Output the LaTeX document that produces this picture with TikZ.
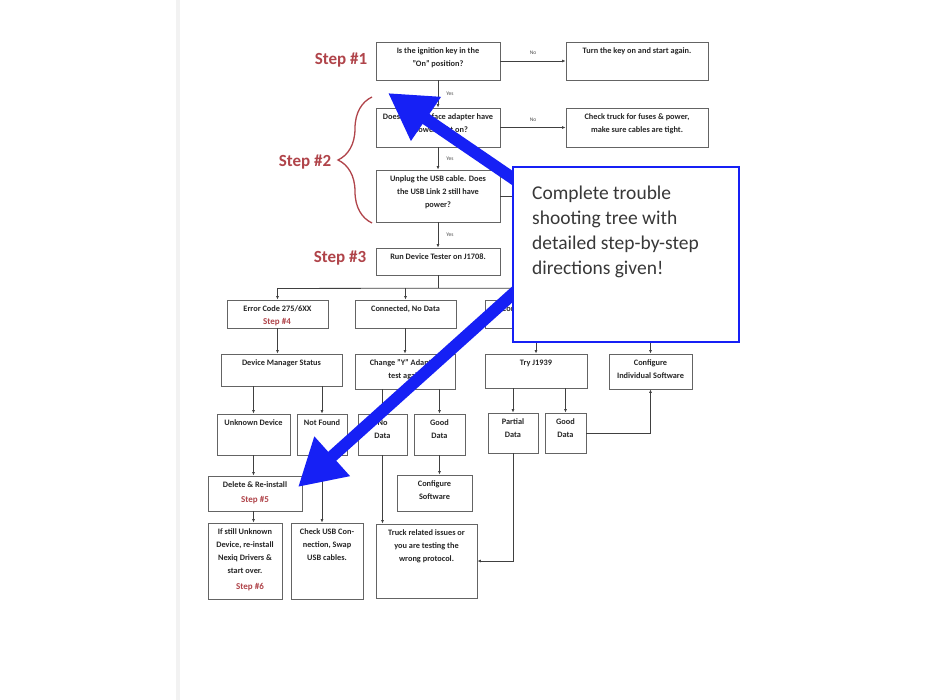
\documentclass[tikz,border=0pt]{standalone}
\usepackage{fontspec}
\setmainfont{Carlito}
\usetikzlibrary{arrows.meta,decorations.pathreplacing,calc}
\definecolor{bblue}{RGB}{22,32,245}
\definecolor{stepred}{RGB}{176,68,74}
\definecolor{boxgray}{RGB}{100,100,100}
\tikzset{
  bx/.style={draw=boxgray, line width=0.9pt, fill=white, inner sep=0pt, rectangle},
  tx/.style={font=\fontsize{8.3}{13}\selectfont\bfseries, text=black!85, align=center, anchor=north, inner sep=0pt},
  ln/.style={draw=black!75, line width=0.8pt},
  ar/.style={ln, -{Latex[length=3.5pt,width=3pt]}},
  lbl/.style={font=\fontsize{5.5}{6}\selectfont, text=black!70, inner sep=0pt},
  stp/.style={font=\fontsize{17}{18}\selectfont\bfseries, text=stepred, inner sep=0pt},
  stps/.style={font=\fontsize{9}{10}\selectfont\bfseries, text=stepred, inner sep=0pt},
  bigarrow/.style={draw=bblue, line width=12pt, -{Triangle[length=46pt,width=50pt]}},
}
\newcommand\boxt[5]{\node[bx, minimum width=#3pt, minimum height=#4pt] (#1) at (#2) {};
  \node[tx] at ($(#1.north)+(0,6)$) {#5};}
\begin{document}
\begin{tikzpicture}[x=1pt,y=-1pt]
\useasboundingbox (0,0) rectangle (933,700);
\fill[white] (0,0) rectangle (933,700);
\fill[black!5] (176,0) rectangle (180,700);

% boxes
\boxt{q1}{438,61}{124}{38}{Is the ignition key in the\\"On" position?}
\boxt{t1}{637,61}{142}{38}{Turn the key on and start again.}
\boxt{q2}{438,127.5}{124}{39}{Does the interface adapter have\\a power light on?}
\boxt{t2}{637,127.5}{142}{39}{Check truck for fuses \& power,\\make sure cables are tight.}
\boxt{q3}{438,196}{124}{52}{Unplug the USB cable. Does\\the USB Link 2 still have\\power?}
\boxt{q4}{438,261.5}{124}{27}{Run Device Tester on J1708.}
\boxt{c1}{277.5,314}{101}{28}{Error Code 275/6XX}
\boxt{c2}{405.5,314}{101}{28}{Connected, No Data}
\boxt{c3}{538,314}{106}{28}{Connected, Bad Data}
\boxt{d1}{281.5,370}{121}{32}{Device Manager Status}
\boxt{d2}{405,371.5}{100}{35}{Change "Y" Adapter,\\test again}
\boxt{d3}{536,371}{102}{34}{Try J1939}
\boxt{d4}{650.5,371.5}{83}{35}{Configure\\Individual Software}
\boxt{e1}{253.5,434.5}{73}{41}{Unknown Device}
\boxt{e2}{322,434.5}{50}{41}{Not Found}
\boxt{e3}{382.5,434.5}{49}{41}{No\\Data}
\boxt{e4}{439.5,434.5}{51}{41}{Good\\Data}
\boxt{e5}{513,433}{50}{40}{Partial\\Data}
\boxt{e6}{565.5,433}{41}{40}{Good\\Data}
\boxt{f1}{255,493.5}{94}{35}{Delete \& Re-install}
\boxt{f2}{434.5,493}{75}{36}{Configure\\Software}
\boxt{g1}{245,561}{74}{76}{If still Unknown\\Device, re-install\\Nexiq Drivers \&\\start over.}
\boxt{g2}{327,561}{72}{76}{Check USB Con-\\nection, Swap\\USB cables.}
\boxt{g3}{426.5,561}{101}{74}{Truck related issues or\\you are testing the\\wrong protocol.}

% step labels
\node[stp] (s1) at (341,60) {Step \#1};
\node[stp] (s2) at (305,162) {Step \#2};
\node[stp] (s3) at (340,258) {Step \#3};
\node[stps] (s4) at (277,322) {Step \#4};
\node[stps] (s5) at (255,500) {Step \#5};
\node[stps] (s6) at (250,587) {Step \#6};
\draw[stepred, line width=1.3pt, decorate, decoration={brace, amplitude=34pt}] (372,223) -- (372,97);

% connectors
\draw[ar] (q1.east) -- node[lbl, above=6pt] {No} (t1.west);
\draw[ar] (q2.east) -- node[lbl, above=6pt] {No} (t2.west);
\draw[ar] (q1.south) -- node[lbl, right=8pt] {Yes} (q2.north);
\draw[ar] (q2.south) -- node[lbl, right=8pt] {Yes} (q3.north);
\draw[ar] (q3.south) -- node[lbl, right=8pt] {Yes} (q4.north);
\coordinate (qr) at ($(q3.east)+(40,0)$);
\draw[ln] (q3.east) -- (qr);
\coordinate (bus) at ($(q4.south)+(0,13)$);
\coordinate (busend) at (653,288);
\draw[ln] (q4.south) -- (bus);
\draw[ln] (c1.north |- bus) -- (busend);
\draw[ar] (c1.north |- bus) -- (c1.north);
\draw[ar] (c2.north |- bus) -- (c2.north);
\draw[ar] (c3.north |- bus) -- (c3.north);
\draw[ln] (busend) -- ++(0,12);
\draw[ar] (c1.south) -- (c1.south |- d1.north);
\draw[ar] (c2.south -| d2.north) -- (d2.north);
\draw[ar] (c3.south -| d3.north) -- (d3.north);
\coordinate (c4b) at (650.5,330);
\draw[ar] (c4b) -- (d4.north);
\draw[ar] (e1.north |- d1.south) -- (e1.north);
\draw[ar] (e2.north |- d1.south) -- (e2.north);
\draw[ar] (e3.north |- d2.south) -- (e3.north);
\draw[ar] (e4.north |- d2.south) -- (e4.north);
\draw[ar] (e5.north |- d3.south) -- (e5.north);
\draw[ar] (e6.north |- d3.south) -- (e6.north);
\draw[ar] (e1.south) -- (e1.south |- f1.north);
\draw[ar] (e2.south) -- (e2.south |- g2.north);
\draw[ar] (e3.south) -- (e3.south |- g3.north);
\draw[ar] (e4.south) -- (e4.south |- f2.north);
\draw[ar] (f1.south -| e1.south) -- (g1.north -| e1.south);
\draw[ar] (e5.south) |- (g3.east);
\draw[ar] (e6.east) -| (d4.south);

% callout arrows
\coordinate (a1s) at (530,190);
\coordinate (a1t) at (388,93);
\coordinate (a2s) at (525,283);
\coordinate (a2t) at (298,487);
\draw[bigarrow] (a1s) -- (a1t);
\draw[bigarrow] (a2s) -- (a2t);

% callout
\node[draw=bblue, line width=2.5pt, fill=white, minimum width=226pt, minimum height=175pt, inner sep=0pt] (call) at (626,254.5) {};
\node[anchor=north west, inner sep=0pt, align=left, font=\fontsize{19.5}{25}\selectfont, text=black!78] (calltext) at (532,186) {Complete trouble\\shooting tree with\\detailed step-by-step\\directions given!};
\end{tikzpicture}
\end{document}
